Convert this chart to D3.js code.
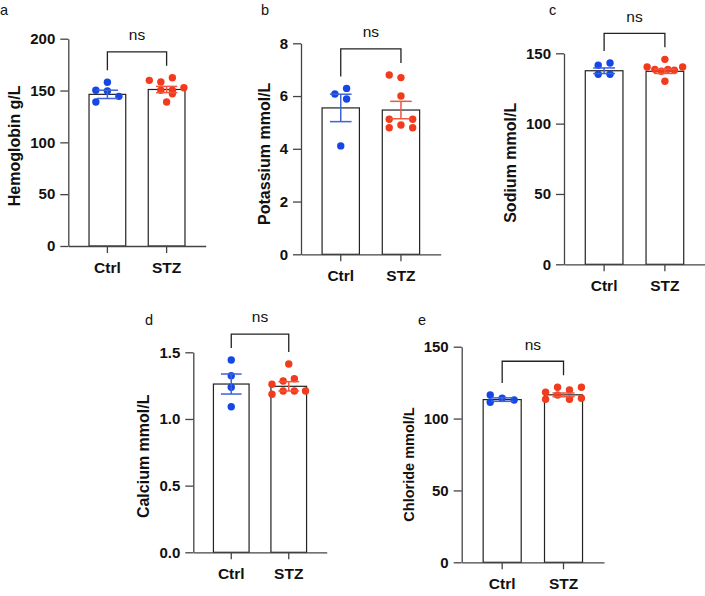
<!DOCTYPE html>
<html><head><meta charset="utf-8">
<script src="https://cdn.jsdelivr.net/npm/d3@7"></script>
<style>body{margin:0;background:#fff}svg{display:block}</style>
</head><body>
<script>
// ---- data ----
const panelLetters = ["a","b","c","d","e"];
const yTitles = ["Hemoglobin g/L","Potassium mmol/L","Sodium mmol/L","Calcium mmol/L","Chloride mmol/L"];
const categories = ["Ctrl","STZ"];
const yMax = [200, 8, 150, 1.5, 150];
const yTickValues = [[0,50,100,150,200],[0,2,4,6,8],[0,50,100,150],[0,0.5,1.0,1.5],[0,50,100,150]];
const yTickFormat = ["d","d","d",".1f","d"];
const ctrlMean = [146.3, 5.55, 137.6, 1.262, 113.2];
const ctrlSem  = [4.0, 0.52, 2.0, 0.075, 1.2];
const stzMean  = [151.0, 5.47, 137.2, 1.245, 116.5];
const stzSem   = [3.0, 0.33, 1.5, 0.035, 1.3];
const ctrlPoints = [
  [158, 150.2, 149.5, 144.4, 138.9],
  [6.08, 6.29, 5.89, 4.11],
  [141.5, 143.1, 135.1, 135.1],
  [1.442, 1.325, 1.238, 1.092],
  [116.4, 111.3, 114.1, 112.9]
];
const stzPoints = [
  [159.8, 158.2, 162.3, 152.7, 150.2, 150.2, 146.9, 138.9],
  [6.8, 6.7, 6.0, 5.12, 5.12, 4.8, 4.9, 4.8],
  [145.7, 140.3, 140.3, 138.6, 137.2, 138.6, 137.9, 130.1],
  [1.412, 1.285, 1.302, 1.26, 1.185, 1.21, 1.21, 1.21],
  [118.3, 121.8, 119.9, 121.8, 113.4, 116.4, 113.4, 114.1]
];
// swarm column index of each point (scatter arrangement)
const ctrlSwarm = [[0,-2,0,2,-2],[-1,1,1,0],[-1,1,-1,1],[0,0,0,0],[-2,-2,0,2]];
const stzSwarm  = [[-3,-1,1,3,-1,1,1,0],[-2,0,0,-2,2,-2,0,2],[0,-3,3,-1.7,-0.6,0.5,1.6,0],[0,-1,1,-3,-3,-1,1,3],[-3,-1,1,3,-3,-1,1,3]];

// ---- layout (not data) ----
const layout = [
  {x0:68.3, x1:205.7, yTop:38.7, yBot:246, lx:0, ly:15, tdy:3.5, tfs:16},
  {x0:301, x1:440.7, yTop:43.3, yBot:254.3, lx:261, ly:15, tdy:5, tfs:16},
  {x0:564, x1:705, yTop:53.3, yBot:264.3, lx:549, ly:15, tdy:4, tfs:16},
  {x0:193.3, x1:326.7, yTop:352.3, yBot:552.3, lx:145, ly:325, tdy:4, tfs:16},
  {x0:461.7, x1:604, yTop:346.7, yBot:562.3, lx:418, ly:325, tdy:10, tfs:14.5}
];
const dotColor = ["#1546e6", "#f23a1c"];
const errColor = ["#3d63d6", "#ef5740"];
const FONT = "'Liberation Sans', Arial, Helvetica, sans-serif";

const svg = d3.select("body").append("svg").attr("width",705).attr("height",596)
  .style("font-family", FONT);

panelLetters.forEach((letter, i) => {
  const L = layout[i];
  const g = svg.append("g");
  const x = d3.scaleBand().domain(categories).range([L.x0, L.x1]).paddingInner(0.38).paddingOuter(0.35);
  const y = d3.scaleLinear().domain([0, yMax[i]]).range([L.yBot, L.yTop]);
  const bw = x.bandwidth();
  const unit = bw * 0.157;
  const groups = [
    {cat:"Ctrl", mean:ctrlMean[i], sem:ctrlSem[i], pts:ctrlPoints[i], sw:ctrlSwarm[i], c:0},
    {cat:"STZ", mean:stzMean[i], sem:stzSem[i], pts:stzPoints[i], sw:stzSwarm[i], c:1}
  ];

  // panel letter
  svg.append("text").attr("x", L.lx).attr("y", L.ly).attr("font-size", 14.5).attr("fill","#111").text(letter);

  // bars
  g.selectAll("rect.bar").data(groups).join("rect")
    .attr("x", d => x(d.cat)).attr("width", bw)
    .attr("y", d => y(d.mean)).attr("height", d => y(0) - y(d.mean))
    .attr("fill", "#fff").attr("stroke", "#222").attr("stroke-width", 1.2);

  // y axis
  const ya = g.append("g").attr("transform", `translate(${L.x0},0)`)
    .call(d3.axisLeft(y).tickValues(yTickValues[i]).tickFormat(d3.format(yTickFormat[i])).tickSize(8).tickSizeOuter(0).tickPadding(5));
  ya.select(".domain").attr("stroke", "#444").attr("stroke-width", 1.3);
  ya.selectAll(".tick line").attr("stroke", "#444").attr("stroke-width", 1.3);
  ya.selectAll(".tick text").attr("font-size", 15).attr("font-weight", "bold").attr("fill", "#111").style("font-family", FONT);

  // x axis
  const xa = g.append("g").attr("transform", `translate(0,${L.yBot})`)
    .call(d3.axisBottom(x).tickSize(7).tickSizeOuter(0).tickPadding(8.5));
  xa.select(".domain").attr("stroke", "#444").attr("stroke-width", 1.3);
  xa.selectAll(".tick line").attr("stroke", "#444").attr("stroke-width", 1.3);
  xa.selectAll(".tick text").attr("font-size", 15.5).attr("font-weight", "bold").attr("fill", "#111").style("font-family", FONT);

  // y title
  const bb = ya.node().getBBox();
  const midY = (L.yTop + L.yBot) / 2 + L.tdy;
  const tx = L.x0 + bb.x - 10;
  g.append("text").attr("transform", `translate(${tx},${midY}) rotate(-90)`)
    .attr("text-anchor", "middle").attr("font-size", L.tfs).attr("font-weight", "bold").attr("fill", "#111")
    .text(yTitles[i]);

  // dots
  groups.forEach(gr => {
    const cx = x(gr.cat) + bw / 2;
    g.selectAll(null).data(gr.pts.map((v, k) => ({v, s: gr.sw[k]}))).join("circle")
      .attr("cx", d => cx + d.s * unit).attr("cy", d => y(d.v)).attr("r", 3.7)
      .attr("fill", dotColor[gr.c]);
  });

  // error bars
  groups.forEach(gr => {
    const cx = x(gr.cat) + bw / 2;
    const hw = bw * 0.29;
    const eg = g.append("g").attr("stroke", errColor[gr.c]).attr("stroke-width", 1.5);
    eg.append("line").attr("x1", cx).attr("x2", cx).attr("y1", y(gr.mean + gr.sem)).attr("y2", y(gr.mean - gr.sem));
    [gr.mean + gr.sem, gr.mean - gr.sem].forEach(v =>
      eg.append("line").attr("x1", cx - hw).attr("x2", cx + hw).attr("y1", y(v)).attr("y2", y(v)));
  });

  // significance bracket
  const legEnds = groups.map(gr => y(Math.max(d3.max(gr.pts), gr.mean + gr.sem)) - 12);
  const top = d3.min(legEnds) - 14;
  const xc = groups.map(gr => x(gr.cat) + bw / 2);
  g.append("path")
    .attr("d", `M${xc[0]},${legEnds[0]}V${top}H${xc[1]}V${legEnds[1]}`)
    .attr("fill", "none").attr("stroke", "#222").attr("stroke-width", 1.3);
  g.append("text").attr("x", (xc[0] + xc[1]) / 2).attr("y", top - 11.6)
    .attr("text-anchor", "middle").attr("font-size", 15.5).attr("fill", "#111").text("ns");
});
</script>
</body></html>
